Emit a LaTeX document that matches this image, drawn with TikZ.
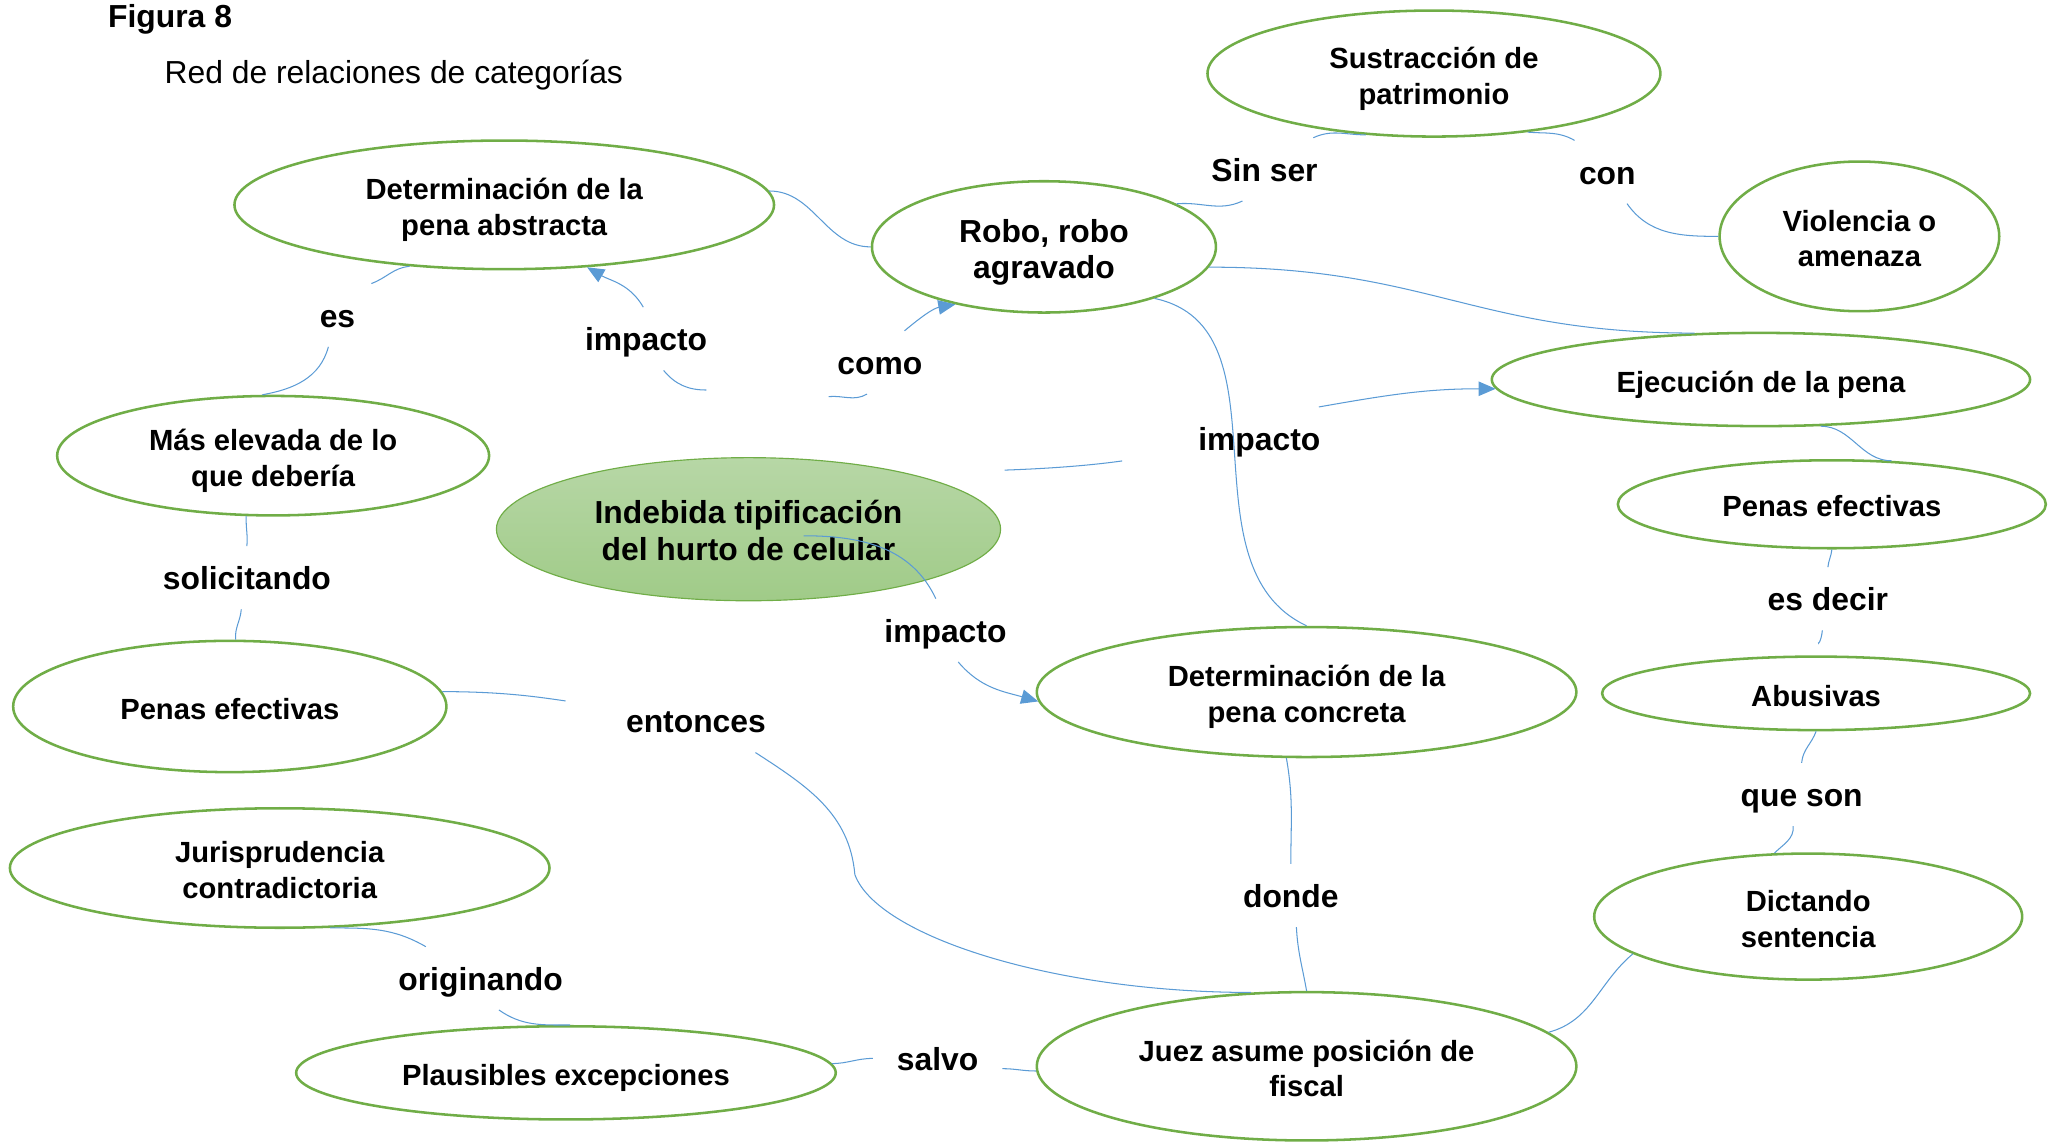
\documentclass[tikz,border=0pt]{standalone}
\usepackage{fontspec}
\setmainfont{Liberation Sans}
\usepackage{tikz}
\usetikzlibrary{shapes.geometric, arrows.meta}

\definecolor{verdeborde}{RGB}{112,173,71}
\definecolor{azulenlace}{RGB}{91,155,213}
\definecolor{verdearriba}{RGB}{183,215,166}
\definecolor{verdeabajo}{RGB}{160,203,136}

\begin{document}
\begin{tikzpicture}[x=0.02cm, y=-0.02cm,
        categoria/.style={ellipse, draw=verdeborde, line width=1.1pt, inner sep=0pt, align=center,
            text height=26.9pt, text depth=0.5pt, font=\bfseries\fontsize{12.65}{15.4}\selectfont},
        unalinea/.style={categoria, text height=11.5pt, text depth=0.5pt},
        nucleo/.style={ellipse, draw=verdeborde, line width=0.5pt, top color=verdearriba,
            bottom color=verdeabajo, inner sep=0pt, align=center, text height=27.4pt, text depth=0.5pt,
            font=\bfseries\fontsize{13.8}{15.9}\selectfont},
        relacion/.style={inner xsep=0.36cm, inner ysep=0.25cm, text height=11.6pt, text depth=1.2pt,
            font=\bfseries\fontsize{13.8}{16}\selectfont},
        enlace/.style={draw=azulenlace, line width=0.45pt},
        flecha/.style={enlace, -{Triangle[length=0.26cm, width=0.22cm]}}]
            \useasboundingbox (0,0) rectangle (1568,870);
            \node[anchor=west, inner sep=0pt, font=\bfseries\fontsize{13.8}{16}\selectfont] (titulo) at (82,15) {Figura 8};
            \node[anchor=west, inner sep=0pt, font=\fontsize{13.8}{16}\selectfont] (subtitulo) at (125,57) {Red de relaciones de categorías};

            \node[categoria, minimum width=6.9cm, minimum height=1.92cm] (sustr) at (1092,56) {Sustracción de\\patrimonio};
            \node[categoria, minimum width=8.22cm, minimum height=1.96cm] (abstr) at (384,156) {Determinación de la\\pena abstracta};
            \node[categoria, minimum width=5.24cm, minimum height=2cm, text height=27.8pt, font=\bfseries\fontsize{13.8}{15.4}\selectfont] (robo) at (795,188) {Robo, robo\\agravado};
            \node[categoria, minimum width=4.26cm, minimum height=2.28cm] (viol) at (1416,180) {Violencia o\\amenaza};
            \node[unalinea, minimum width=8.2cm, minimum height=1.42cm] (ejec) at (1341,289) {Ejecución de la pena};
            \node[categoria, minimum width=6.58cm, minimum height=1.82cm] (mas) at (208,347) {Más elevada de lo\\que debería};
            \node[nucleo, minimum width=7.68cm, minimum height=2.18cm] (indeb) at (570,403) {Indebida tipificación\\del hurto de celular};
            \node[unalinea, minimum width=6.52cm, minimum height=1.34cm] (penasR) at (1395,384) {Penas efectivas};
            \node[unalinea, minimum width=6.6cm, minimum height=2cm] (penasL) at (175,538) {Penas efectivas};
            \node[categoria, minimum width=8.22cm, minimum height=1.98cm] (concr) at (995,527) {Determinación de la\\pena concreta};
            \node[unalinea, minimum width=6.52cm, minimum height=1.12cm] (abus) at (1383,528) {Abusivas};
            \node[categoria, minimum width=8.22cm, minimum height=1.82cm] (juris) at (213,661) {Jurisprudencia\\contradictoria};
            \node[categoria, minimum width=6.52cm, minimum height=1.92cm] (dict) at (1377,698) {Dictando\\sentencia};
            \node[unalinea, minimum width=8.22cm, minimum height=1.42cm] (plaus) at (431,817) {Plausibles excepciones};
            \node[categoria, minimum width=8.22cm, minimum height=2.26cm] (juez) at (995,812) {Juez asume posición de\\fiscal};

            \node[relacion] (sinser) at (963,129) {Sin ser};
            \node[relacion] (con) at (1224,131) {con};
            \node[relacion] (es) at (257,240) {es};
            \node[relacion] (impA) at (492,258) {impacto};
            \node[relacion] (como) at (670,276) {como};
            \node[relacion] (impB) at (959,334) {impacto};
            \node[relacion] (solic) at (188,440) {solicitando};
            \node[relacion] (esdec) at (1392,456) {es decir};
            \node[relacion] (impC) at (720,480) {impacto};
            \node[relacion] (entonc) at (530,549) {entonces};
            \node[relacion] (queson) at (1372,605) {que son};
            \node[relacion] (donde) at (983,682) {donde};
            \node[relacion] (orig) at (366,745) {originando};
            \node[relacion] (salvo) at (714,806) {salvo};

            \coordinate (cImpA) at (538,297);
            \coordinate (cComo) at (631,302);
            \coordinate (cImpB) at (765,358);
            \coordinate (cIndeb) at (612,408);
            \coordinate (cEntonc) at (651,666);

            \draw[enlace] (abstr.3) to[out=0,in=180] (robo.west);
            \draw[enlace] (robo.18) to[out=5,in=-155] (sinser.-125);
            \draw[enlace] (sinser.33) to[out=25,in=180] (sustr.-138);
            \draw[enlace] (sustr.-32) to[out=-5,in=150] (con.136);
            \draw[enlace] (con.-58) to[out=-55,in=180] (viol.west);
            \draw[enlace] (robo.-7) to[out=0,in=180,looseness=1.15] (ejec.145);
            \draw[enlace] (cImpA) to[out=180,in=-50] (impA.-61);
            \draw[flecha] (impA.95) to[out=120,in=-30] (abstr.-37);
            \draw[enlace] (cComo) to[out=5,in=-150] (como.-112);
            \draw[flecha] (como.52) to[out=40,in=-170] (robo.-147);
            \draw[enlace, shorten >=0.8cm] (cImpB) to[out=2,in=188] (impB.190);
            \draw[flecha] (impB.28) to[out=10,in=180] (ejec.-178);
            \draw[enlace] (robo.-25) to[out=-12,in=155] (concr.north);
            \draw[enlace] (cIndeb) to[out=0,in=115] (impC.107);
            \draw[flecha] (impC.-68) to[out=-50,in=164] (concr.-178);
            \draw[enlace] (abstr.-147) to[out=185,in=20] (es.43);
            \draw[enlace] (es.-106) to[out=-105,in=10] (mas.100);
            \draw[enlace] (mas.-114) to[out=-92,in=85] (solic.north);
            \draw[enlace] (solic.-100) to[out=-95,in=95] (penasL.85);
            \draw[enlace, shorten >=0.56cm] (penasL.4) to[out=0,in=172] (entonc.171);
            \draw[enlace] (entonc.-28) to[out=-33,in=95] (cEntonc) to[out=-70,in=180,out distance=1cm,in distance=3cm] (juez.127);
            \draw[enlace] (concr.-107) to[out=-80,in=90] (donde.north);
            \draw[enlace] (donde.-80) to[out=-87,in=100] (juez.north);
            \draw[enlace] (ejec.-38) to[out=0,in=180] (penasR.36);
            \draw[enlace] (penasR.south) to[out=-95,in=85] (esdec.north);
            \draw[enlace, shorten >=0.2cm] (esdec.-100) to[out=-95,in=80] (abus.north);
            \draw[enlace] (abus.south) to[out=-110,in=85] (queson.north);
            \draw[enlace] (queson.-105) to[out=-85,in=45] (dict.118);
            \draw[enlace] (dict.-168) to[out=-140,in=15] (juez.8);
            \draw[enlace] (juris.-50) to[out=0,in=150] (orig.150);
            \draw[enlace] (orig.-60) to[out=-35,in=180] (plaus.85);
            \draw[enlace] (plaus.2) to[out=0,in=180] (salvo.west);
            \draw[enlace] (salvo.-9) to[out=0,in=180] (juez.-179);
        \end{tikzpicture}
\end{document}
